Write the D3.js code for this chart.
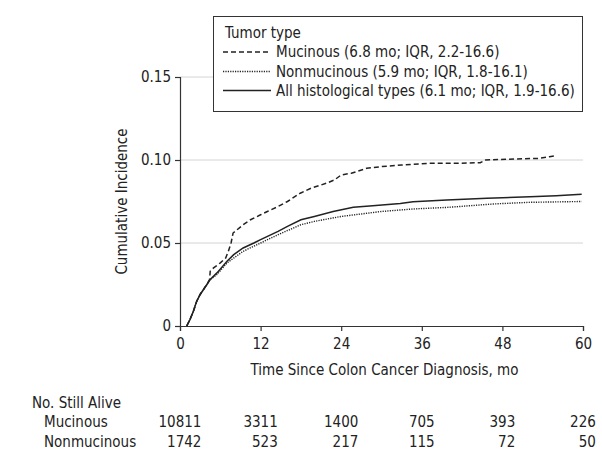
<!DOCTYPE html>
<html>
<head>
<meta charset="utf-8">
<script src="https://cdn.jsdelivr.net/npm/d3@7"></script>
<style>
  html, body { margin: 0; padding: 0; background: #fff; }
  svg text { font-family: "DejaVu Sans Condensed", "DejaVu Sans", sans-serif; font-size: 15px; fill: #222; }
</style>
</head>
<body>
<svg id="chart" width="602" height="460"></svg>
<script>
// ---- Data ----
const mucinous = [
  [1.0,0],[1.5,0.004],[2,0.009],[2.5,0.015],[3,0.019],[3.5,0.022],[4,0.025],[4.4,0.028],
  [4.5,0.033],[5,0.035],[6,0.038],[6.8,0.041],[7.2,0.045],[7.6,0.050],[7.9,0.056],
  [8.5,0.058],[9.4,0.061],[10.5,0.064],[12,0.067],[13,0.069],[14.6,0.072],[16,0.075],
  [17.9,0.080],[19.5,0.083],[21.8,0.086],[23,0.088],[24,0.091],[25.5,0.092],[27.8,0.095],
  [30,0.096],[33,0.097],[37,0.098],[41,0.098],[44.7,0.0984],[45.5,0.100],[49,0.1005],
  [53.5,0.101],[55,0.102],[55.8,0.1025]
];
const nonmucinous = [
  [1.0,0],[1.5,0.004],[2,0.009],[2.5,0.015],[3,0.019],[3.5,0.022],[4,0.025],[4.5,0.028],
  [5.5,0.031],[7,0.038],[9.4,0.045],[12,0.050],[14.6,0.055],[18,0.061],[20,0.063],
  [24,0.066],[28,0.068],[30,0.069],[34.7,0.0705],[40,0.0715],[46.6,0.0735],[52,0.0745],
  [59.8,0.075]
];
const allTypes = [
  [1.0,0],[1.5,0.004],[2,0.009],[2.5,0.015],[3,0.019],[3.5,0.022],[4,0.025],[4.5,0.028],
  [5.5,0.032],[7,0.039],[8,0.043],[9.4,0.047],[11,0.050],[12,0.052],[14.6,0.057],[16,0.060],
  [18,0.064],[20,0.066],[22.8,0.069],[25.8,0.0715],[28.7,0.0725],[32.8,0.0738],[34.7,0.0749],
  [39.7,0.0759],[45.7,0.0769],[52.1,0.0779],[56,0.0785],[59.8,0.0793]
];
const xTicks = [0, 12, 24, 36, 48, 60];
const yTicks = [0, 0.05, 0.10, 0.15];
const legendTitle = "Tumor type";
const legendLabels = [
  "Mucinous (6.8 mo; IQR, 2.2-16.6)",
  "Nonmucinous (5.9 mo; IQR, 1.8-16.1)",
  "All histological types (6.1 mo; IQR, 1.9-16.6)"
];
const riskTitle = "No. Still Alive";
const riskGroups = ["Mucinous", "Nonmucinous"];
const riskMucinous = [10811, 3311, 1400, 705, 393, 226];
const riskNonmucinous = [1742, 523, 217, 115, 72, 50];

// ---- Layout ----
const svg = d3.select("#chart");
const x = d3.scaleLinear().domain([0, 60]).range([180, 583]);
const y = d3.scaleLinear().domain([0, 0.15]).range([326, 77]);
const ink = "#222";
const axisColor = "#333";

// gridlines
svg.append("g").selectAll("line").data(yTicks.filter(d => d > 0)).join("line")
  .attr("x1", x(0)).attr("x2", x(60))
  .attr("y1", d => y(d)).attr("y2", d => y(d))
  .attr("stroke", "#d4d4d4").attr("stroke-width", 1);

// axes
const xAxis = svg.append("g").attr("transform", `translate(0,${y(0)})`)
  .call(d3.axisBottom(x).tickValues(xTicks).tickSizeOuter(0).tickSize(5).tickPadding(7));
const yAxis = svg.append("g").attr("transform", `translate(${x(0)},0)`)
  .call(d3.axisLeft(y).tickValues(yTicks).tickSizeOuter(0).tickSize(5).tickPadding(4)
    .tickFormat(d => d === 0 ? "0" : d3.format(".2f")(d)));
[xAxis, yAxis].forEach(g => {
  g.attr("font-family", null).attr("font-size", null);
  g.select(".domain").attr("stroke", axisColor).attr("stroke-width", 1.2);
  g.selectAll(".tick line").attr("stroke", axisColor).attr("stroke-width", 1.2);
  g.selectAll(".tick text").attr("fill", ink).style("font-size", "15px");
});

// axis titles
svg.append("text").attr("x", (x(0) + x(60)) / 2 + 3).attr("y", 375)
  .attr("text-anchor", "middle").text("Time Since Colon Cancer Diagnosis, mo");
svg.append("text").attr("transform", `translate(127,${(y(0) + y(0.15)) / 2}) rotate(-90)`)
  .attr("text-anchor", "middle").text("Cumulative Incidence");

// curves
const line = d3.line().x(d => x(d[0])).y(d => y(d[1])).curve(d3.curveLinear);
const series = [
  { data: mucinous, dash: "5,3", w: 1.5 },
  { data: nonmucinous, dash: "1.2,1.2", w: 1.4 },
  { data: allTypes, dash: null, w: 1.5 }
];
svg.append("g").selectAll("path").data(series).join("path")
  .attr("d", d => line(d.data))
  .attr("fill", "none").attr("stroke", ink)
  .attr("stroke-width", d => d.w)
  .attr("stroke-dasharray", d => d.dash);

// legend
const lg = svg.append("g");
lg.append("rect").attr("x", 213.5).attr("y", 16.5).attr("width", 369).attr("height", 95)
  .attr("fill", "#fff").attr("stroke", "#333").attr("stroke-width", 1);
lg.append("text").attr("x", 225).attr("y", 38).text(legendTitle);
const rowsY = [52, 71.5, 90.5];
series.forEach((s, i) => {
  lg.append("line").attr("x1", 223).attr("x2", 271).attr("y1", rowsY[i]).attr("y2", rowsY[i])
    .attr("stroke", ink).attr("stroke-width", s.w).attr("stroke-dasharray", s.dash);
  lg.append("text").attr("x", 276).attr("y", rowsY[i] + 5).text(legendLabels[i]);
});

// risk table
svg.append("text").attr("x", 32).attr("y", 408).text(riskTitle);
const rowBase = [427, 447];
riskGroups.forEach((g, i) => {
  svg.append("text").attr("x", 44).attr("y", rowBase[i]).text(g);
});
xTicks.forEach((t, j) => {
  const top = svg.append("text").attr("x", x(t)).attr("y", rowBase[0])
    .attr("text-anchor", "middle").text(riskMucinous[j]);
  const right = x(t) + top.node().getComputedTextLength() / 2;
  svg.append("text").attr("x", right).attr("y", rowBase[1])
    .attr("text-anchor", "end").text(riskNonmucinous[j]);
});
</script>
</body>
</html>
